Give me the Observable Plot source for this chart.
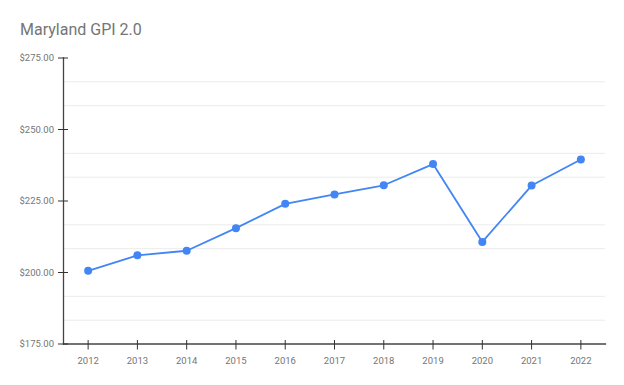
<!DOCTYPE html>
<html>
<head>
<meta charset="utf-8">
<script src="https://cdn.jsdelivr.net/npm/d3@7"></script>
<script src="https://cdn.jsdelivr.net/npm/@observablehq/plot@0.6"></script>
<style>
  html, body { margin: 0; padding: 0; background: #fff; }
  #wrap { position: relative; width: 624px; height: 385px; overflow: hidden; }
  #title { position: absolute; left: 20px; top: 21.5px; font-family: Roboto, sans-serif; font-size: 16px; line-height: 1; color: #757575; white-space: nowrap; }
  #chart { position: absolute; left: 0; top: 0; }
</style>
</head>
<body>
<div id="wrap">
  <div id="chart"></div>
  <div id="title">Maryland GPI 2.0</div>
</div>
<script>
const years = [2012, 2013, 2014, 2015, 2016, 2017, 2018, 2019, 2020, 2021, 2022];
const gpi = [200.6, 206.0, 207.6, 215.5, 224.0, 227.3, 230.5, 237.9, 210.7, 230.4, 239.5];
const yTicks = [175, 200, 225, 250, 275];
const minorGrid = [183.33, 191.67, 208.33, 216.67, 233.33, 241.67, 258.33, 266.67];

const data = years.map((year, i) => ({year, value: gpi[i]}));
const blue = "#4285F4";
const fmt = d => "$" + d3.format(",.2f")(d);

const chart = Plot.plot({
  width: 624,
  height: 385,
  marginLeft: 63,
  marginRight: 19,
  marginTop: 57.5,
  marginBottom: 41.5,
  style: { fontFamily: "Roboto, sans-serif", fontSize: "9.5px", color: "#757575", background: "transparent" },
  x: { domain: [2011.5, 2022.5], ticks: years, tickFormat: "d" },
  y: { domain: [175, 275] },
  marks: [
    Plot.ruleY(minorGrid, { stroke: "#ebebeb", strokeWidth: 1 }),
    Plot.frame({ anchor: "left", stroke: "#444", strokeWidth: 1.3 }),
    Plot.frame({ anchor: "bottom", stroke: "#444", strokeWidth: 1.3 }),
    Plot.axisY(yTicks, { tickSize: 10, dx: 5, tickPadding: 4.5, tickFormat: fmt, stroke: "#333", fill: "#757575", label: null }),
    Plot.axisX(years, { tickSize: 9.5, dy: -3.5, tickPadding: 7, tickFormat: "d", stroke: "#333", fill: "#757575", label: null }),
    Plot.line(data, { x: "year", y: "value", stroke: blue, strokeWidth: 1.8 }),
    Plot.dot(data, { x: "year", y: "value", r: 4, fill: blue, stroke: null })
  ]
});
document.getElementById("chart").appendChild(chart);
</script>
</body>
</html>
